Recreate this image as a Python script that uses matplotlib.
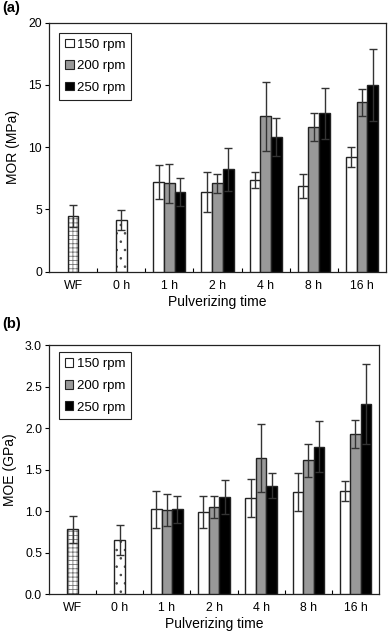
import matplotlib
matplotlib.use("Agg")
import matplotlib.pyplot as plt
import numpy as np
from matplotlib.patches import Patch

plt.rcParams['font.family'] = ['Liberation Sans', 'DejaVu Sans']
plt.rcParams['hatch.linewidth'] = 0.6

categories = ["WF", "0 h", "1 h", "2 h", "4 h", "8 h", "16 h"]
series_names = ["150 rpm", "200 rpm", "250 rpm"]

# Reference bars (WF, 0 h)
mor_ref = [4.5, 4.15]
mor_ref_err = [0.88, 0.8]
moe_ref = [0.78, 0.65]
moe_ref_err = [0.16, 0.18]

# Pulverized groups (1 h, 2 h, 4 h, 8 h, 16 h)
mor_150 = [7.18, 6.43, 7.36, 6.88, 9.24]
mor_150_err = [1.35, 1.6, 0.67, 1.0, 0.8]
mor_200 = [7.1, 7.1, 12.48, 11.65, 13.6]
mor_200_err = [1.57, 0.75, 2.75, 1.12, 1.1]
mor_250 = [6.43, 8.22, 10.82, 12.72, 14.97]
mor_250_err = [1.12, 1.7, 1.55, 2.06, 2.9]

moe_150 = [1.02, 0.99, 1.157, 1.225, 1.24]
moe_150_err = [0.225, 0.19, 0.23, 0.23, 0.12]
moe_200 = [1.01, 1.05, 1.64, 1.61, 1.93]
moe_200_err = [0.19, 0.13, 0.41, 0.2, 0.17]
moe_250 = [1.02, 1.17, 1.305, 1.775, 2.29]
moe_250_err = [0.16, 0.2, 0.15, 0.31, 0.48]

colors = ["white", "#999999", "black"]
edge = "#222222"
W = 0.223

fig = plt.figure(figsize=(3.88, 6.32), dpi=100)
ax_a = fig.add_axes([0.1263, 0.5701, 0.9948 - 0.1263, 0.9641 - 0.5701])
ax_b = fig.add_axes([0.1263, 0.0601, 0.9768 - 0.1263, 0.4541 - 0.0601])

ekw = dict(ecolor="#333333", elinewidth=1.0, capsize=3, capthick=1.0)


def draw(ax, ref, ref_err, groups, groups_err, ylim, yticks, ylabel, fmt, legend_top):
    # WF (grid hatch) and 0 h (dots)
    hatches = ["++++", ".."]
    hcols = ["#777777", "#444444"]
    for i in range(2):
        ax.bar(i, ref[i], W, color="white", edgecolor=hcols[i], hatch=hatches[i],
               linewidth=0, zorder=2)
        ax.bar(i, ref[i], W, fill=False, edgecolor=edge, linewidth=1.0, zorder=3,
               yerr=ref_err[i], error_kw=ekw)
    xs = np.arange(2, len(categories))
    for k in range(3):
        ax.bar(xs + (k - 1) * W, groups[k], W, color=colors[k], edgecolor=edge,
               linewidth=1.0, zorder=3, yerr=groups_err[k], error_kw=ekw)
    ax.set_xlim(-0.5, len(categories) - 0.5)
    ax.set_ylim(*ylim)
    ax.set_yticks(yticks)
    ax.set_yticklabels([fmt.format(v) for v in yticks], fontsize=8.8)
    ax.set_xticks(np.arange(len(categories)))
    ax.set_xticklabels(categories, fontsize=8.8)
    ax.tick_params(axis="x", length=0, pad=6)
    ax.set_xticks(np.arange(0.5, len(categories) - 0.5), minor=True)
    ax.tick_params(axis="x", which="minor", direction="in", length=3, width=0.8)
    ax.tick_params(axis="y", direction="out", length=3, width=0.8, pad=2)
    ax.set_xlabel("Pulverizing time", fontsize=10, labelpad=2)
    ax.set_ylabel(ylabel, fontsize=10, labelpad=6)
    for s in ax.spines.values():
        s.set_linewidth(0.9)
        s.set_color("#222222")
    handles = [Patch(facecolor=c, edgecolor=edge, linewidth=0.8) for c in colors]
    leg = ax.legend(handles, series_names, loc="upper left",
                    bbox_to_anchor=(0.03, legend_top), borderaxespad=0,
                    fontsize=9.5, handlelength=0.65, handleheight=0.65,
                    handletextpad=0.25, labelspacing=0.72, borderpad=0.45,
                    fancybox=False, framealpha=1, edgecolor="#222222")
    leg.get_frame().set_linewidth(0.8)


draw(ax_a, mor_ref, mor_ref_err, [mor_150, mor_200, mor_250],
     [mor_150_err, mor_200_err, mor_250_err], (0, 20), [0, 5, 10, 15, 20],
     "MOR (MPa)", "{:.0f}", 0.96)
draw(ax_b, moe_ref, moe_ref_err, [moe_150, moe_200, moe_250],
     [moe_150_err, moe_200_err, moe_250_err], (0, 3.0),
     [0.0, 0.5, 1.0, 1.5, 2.0, 2.5, 3.0], "MOE (GPa)", "{:.1f}", 0.97)

fig.text(0.005, 0.988, "(a)", fontsize=10.5, fontweight="bold", va="center", ha="left")
fig.text(0.005, 0.487, "(b)", fontsize=10.5, fontweight="bold", va="center", ha="left")

fig.savefig("out.png", dpi=100)
